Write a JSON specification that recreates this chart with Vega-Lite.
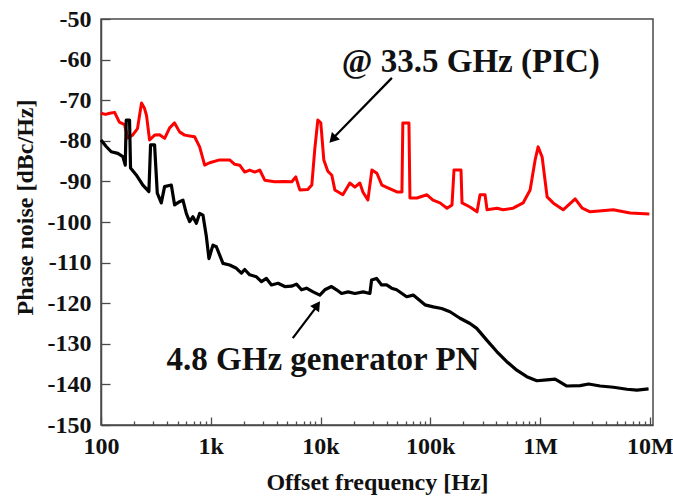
{
  "$schema": "https://vega.github.io/schema/vega-lite/v6.json",
  "width": 552,
  "height": 406,
  "autosize": {"type": "none"},
  "padding": {"left": 101, "top": 19, "right": 20, "bottom": 72},
  "background": "white",
  "config": {
    "view": {"stroke": "#4a4a4a", "strokeWidth": 1.5},
    "font": "Liberation Serif, DejaVu Serif, serif",
    "axis": {"grid": false, "domainColor": "#4a4a4a", "domainWidth": 1.5, "tickColor": "#4a4a4a", "tickWidth": 1.3,
      "labelFont": "Liberation Serif, DejaVu Serif, serif", "labelFontWeight": "bold", "labelFontSize": 24, "labelColor": "#111",
      "titleFont": "Liberation Serif, DejaVu Serif, serif", "titleFontWeight": "bold", "titleFontSize": 24, "titleColor": "#111"}
  },
  "datasets": {
    "pic": [
      {"f": 100, "pn": -73.2}, {"f": 110, "pn": -73.5}, {"f": 120, "pn": -73.2}, {"f": 133, "pn": -73.0}, {"f": 147, "pn": -75.4},
      {"f": 164, "pn": -76.0}, {"f": 175, "pn": -79.3}, {"f": 194, "pn": -78.6}, {"f": 215, "pn": -77.0}, {"f": 225, "pn": -73.6},
      {"f": 234, "pn": -70.7}, {"f": 249, "pn": -72.0}, {"f": 260, "pn": -73.8}, {"f": 277, "pn": -79.8}, {"f": 308, "pn": -78.6},
      {"f": 342, "pn": -78.5}, {"f": 380, "pn": -79.4}, {"f": 422, "pn": -76.8}, {"f": 468, "pn": -75.6}, {"f": 520, "pn": -77.8},
      {"f": 578, "pn": -78.6}, {"f": 642, "pn": -78.8}, {"f": 713, "pn": -79.0}, {"f": 792, "pn": -81.5}, {"f": 880, "pn": -86.0},
      {"f": 977, "pn": -85.4}, {"f": 1205, "pn": -84.7}, {"f": 1487, "pn": -84.7}, {"f": 1652, "pn": -85.8}, {"f": 1835, "pn": -86.0},
      {"f": 2039, "pn": -87.7}, {"f": 2264, "pn": -87.2}, {"f": 2515, "pn": -87.7}, {"f": 2795, "pn": -87.2}, {"f": 3103, "pn": -89.7},
      {"f": 3828, "pn": -90.1}, {"f": 4725, "pn": -90.0}, {"f": 5472, "pn": -90.1}, {"f": 5953, "pn": -88.9}, {"f": 6475, "pn": -92.1},
      {"f": 7659, "pn": -92.0}, {"f": 8329, "pn": -90.9}, {"f": 8873, "pn": -82.0}, {"f": 9450, "pn": -74.9}, {"f": 10060, "pn": -75.6},
      {"f": 10717, "pn": -84.7}, {"f": 11657, "pn": -87.5}, {"f": 12682, "pn": -88.5}, {"f": 13506, "pn": -92.1}, {"f": 15974, "pn": -93.3},
      {"f": 18509, "pn": -90.4}, {"f": 20558, "pn": -91.4}, {"f": 22834, "pn": -90.4}, {"f": 24316, "pn": -92.6}, {"f": 27015, "pn": -94.6},
      {"f": 29387, "pn": -87.2}, {"f": 32640, "pn": -88.0}, {"f": 36254, "pn": -90.9}, {"f": 41127, "pn": -91.6}, {"f": 49692, "pn": -92.6},
      {"f": 55193, "pn": -92.6}, {"f": 56234, "pn": -75.6}, {"f": 63927, "pn": -75.6}, {"f": 65283, "pn": -94.1}, {"f": 75612, "pn": -94.1},
      {"f": 93311, "pn": -93.3}, {"f": 105832, "pn": -94.6}, {"f": 122622, "pn": -95.3}, {"f": 142068, "pn": -96.6}, {"f": 157761, "pn": -95.8},
      {"f": 164520, "pn": -87.2}, {"f": 190591, "pn": -87.2}, {"f": 194658, "pn": -95.3}, {"f": 230143, "pn": -96.3}, {"f": 266772, "pn": -97.5},
      {"f": 284137, "pn": -93.3}, {"f": 315580, "pn": -93.3}, {"f": 329100, "pn": -97.0}, {"f": 406100, "pn": -96.6}, {"f": 460600, "pn": -97.0},
      {"f": 568300, "pn": -96.6}, {"f": 701200, "pn": -95.3}, {"f": 812300, "pn": -92.1}, {"f": 902400, "pn": -84.7}, {"f": 961000, "pn": -81.5},
      {"f": 1045300, "pn": -84.0}, {"f": 1160600, "pn": -93.8}, {"f": 1316700, "pn": -95.3}, {"f": 1624500, "pn": -97.0}, {"f": 2091000, "pn": -94.3},
      {"f": 2422000, "pn": -96.6}, {"f": 2865000, "pn": -97.5}, {"f": 4645000, "pn": -97.0}, {"f": 6638000, "pn": -97.8}, {"f": 9900000, "pn": -98.0}
    ],
    "gen": [
      {"f": 100, "pn": -79.8}, {"f": 111.5, "pn": -81.4}, {"f": 123.9, "pn": -82.7}, {"f": 142.3, "pn": -83.1}, {"f": 158.1, "pn": -83.9},
      {"f": 166.3, "pn": -86.0}, {"f": 169.8, "pn": -74.9}, {"f": 182, "pn": -74.9}, {"f": 185.8, "pn": -86.7}, {"f": 209.5, "pn": -88.4},
      {"f": 240.7, "pn": -90.9}, {"f": 273.1, "pn": -92.5}, {"f": 282.9, "pn": -81.0}, {"f": 307.7, "pn": -81.0}, {"f": 325.7, "pn": -92.9},
      {"f": 354.2, "pn": -95.3}, {"f": 379.6, "pn": -91.3}, {"f": 437.1, "pn": -90.9}, {"f": 468.4, "pn": -95.8}, {"f": 520.2, "pn": -95.0},
      {"f": 557.8, "pn": -94.6}, {"f": 599, "pn": -97.9}, {"f": 642, "pn": -99.9}, {"f": 688, "pn": -98.7}, {"f": 739, "pn": -100.3},
      {"f": 792, "pn": -97.9}, {"f": 849, "pn": -98.3}, {"f": 912, "pn": -103.6}, {"f": 963, "pn": -109.0}, {"f": 1047, "pn": -105.7},
      {"f": 1125, "pn": -106.1}, {"f": 1292, "pn": -110.2}, {"f": 1487, "pn": -110.6}, {"f": 1712, "pn": -111.4}, {"f": 1902, "pn": -112.6},
      {"f": 2039, "pn": -111.7}, {"f": 2264, "pn": -113.0}, {"f": 2608, "pn": -113.5}, {"f": 2896, "pn": -114.7}, {"f": 3216, "pn": -113.9},
      {"f": 3572, "pn": -115.5}, {"f": 4103, "pn": -115.1}, {"f": 4725, "pn": -115.9}, {"f": 5438, "pn": -115.8}, {"f": 6039, "pn": -115.3},
      {"f": 6707, "pn": -116.7}, {"f": 7453, "pn": -116.3}, {"f": 8561, "pn": -117.2}, {"f": 9854, "pn": -118.0}, {"f": 10945, "pn": -116.7},
      {"f": 12598, "pn": -115.9}, {"f": 13996, "pn": -116.7}, {"f": 15546, "pn": -117.6}, {"f": 17858, "pn": -117.2}, {"f": 20558, "pn": -117.6},
      {"f": 24476, "pn": -117.2}, {"f": 28181, "pn": -117.6}, {"f": 29204, "pn": -114.3}, {"f": 32433, "pn": -113.9}, {"f": 36024, "pn": -115.5},
      {"f": 40020, "pn": -115.5}, {"f": 44446, "pn": -116.3}, {"f": 49366, "pn": -116.7}, {"f": 60915, "pn": -118.4}, {"f": 69983, "pn": -118.0},
      {"f": 89442, "pn": -120.4}, {"f": 106500, "pn": -120.9}, {"f": 127000, "pn": -121.3}, {"f": 151300, "pn": -122.1}, {"f": 186600, "pn": -123.7},
      {"f": 230100, "pn": -125.0}, {"f": 265100, "pn": -126.2}, {"f": 327000, "pn": -129.1}, {"f": 403500, "pn": -131.9}, {"f": 497800, "pn": -134.4},
      {"f": 614200, "pn": -136.5}, {"f": 757900, "pn": -138.1}, {"f": 935000, "pn": -139.1}, {"f": 1153000, "pn": -138.9}, {"f": 1373000, "pn": -138.7},
      {"f": 1756000, "pn": -140.4}, {"f": 2323000, "pn": -140.3}, {"f": 2765000, "pn": -139.9}, {"f": 3535000, "pn": -140.4}, {"f": 4674000, "pn": -140.7},
      {"f": 6194000, "pn": -141.2}, {"f": 7642000, "pn": -141.4}, {"f": 9752000, "pn": -141.1}
    ],
    "arrows": [
      {"f": 44740, "pn": -64.5, "f2": 13400, "pn2": -79.0},
      {"f": 5588, "pn": -128.6, "f2": 9000, "pn2": -121.2}
    ],
    "heads": [
      {"f": 12900, "pn": -79.6, "ang": 223},
      {"f": 9350, "pn": -120.5, "ang": 35}
    ],
    "labels": [
      {"f": 15640, "pn": -63.0, "txt": "@ 33.5 GHz (PIC)"},
      {"f": 396, "pn": -136.45, "txt": "4.8 GHz generator PN"}
    ]
  },
  "layer": [
    {
      "data": {"name": "pic"},
      "mark": {"type": "line", "color": "#ff0000", "strokeWidth": 3, "strokeJoin": "round"},
      "encoding": {
        "x": {"field": "f", "type": "quantitative",
          "scale": {"type": "log", "domain": [100, 10700000], "nice": false},
          "axis": {
            "title": "Offset frequency [Hz]", "titleY": 57, "titleBaseline": "middle",
            "values": [100,200,300,400,500,600,700,800,900,1000,2000,3000,4000,5000,6000,7000,8000,9000,10000,20000,30000,40000,50000,60000,70000,80000,90000,100000,200000,300000,400000,500000,600000,700000,800000,900000,1000000,2000000,3000000,4000000,5000000,6000000,7000000,8000000,9000000,10000000],
            "labelExpr": "abs(log(datum.value)/LN10 - round(log(datum.value)/LN10)) < 0.01 ? (datum.value >= 1e6 ? round(datum.value/1e6) + 'M' : datum.value >= 1e3 ? round(datum.value/1e3) + 'k' : round(datum.value) + '') : ''",
            "tickSize": {"condition": {"test": "abs(log(datum.value)/LN10 - round(log(datum.value)/LN10)) < 0.01", "value": -8}, "value": -4},
            "labelPadding": 17, "labelFlush": false, "labelOverlap": false
          }},
        "y": {"field": "pn", "type": "quantitative",
          "scale": {"domain": [-150, -50], "nice": false, "zero": false},
          "axis": {
            "title": "Phase noise [dBc/Hz]", "titleX": -76, "titleY": 188, "titleBaseline": "middle",
            "values": [-150,-145,-140,-135,-130,-125,-120,-115,-110,-105,-100,-95,-90,-85,-80,-75,-70,-65,-60,-55,-50],
            "labelExpr": "datum.value % 10 == 0 ? datum.value + '' : ''",
            "tickSize": {"condition": {"test": "datum.value % 10 == 0", "value": -9}, "value": -5},
            "labelPadding": 19, "labelOverlap": false
          }}
      }
    },
    {
      "data": {"name": "gen"},
      "mark": {"type": "line", "color": "#000000", "strokeWidth": 3.2, "strokeJoin": "round"},
      "encoding": {
        "x": {"field": "f", "type": "quantitative"},
        "y": {"field": "pn", "type": "quantitative"}
      }
    },
    {
      "data": {"name": "arrows"},
      "mark": {"type": "rule", "color": "#000000", "strokeWidth": 2.2},
      "encoding": {
        "x": {"field": "f", "type": "quantitative"},
        "y": {"field": "pn", "type": "quantitative"},
        "x2": {"field": "f2"},
        "y2": {"field": "pn2"}
      }
    },
    {
      "data": {"name": "heads"},
      "mark": {"type": "point", "shape": "triangle-up", "filled": true, "color": "#000000", "size": 120, "opacity": 1},
      "encoding": {
        "x": {"field": "f", "type": "quantitative"},
        "y": {"field": "pn", "type": "quantitative"},
        "angle": {"field": "ang", "type": "quantitative", "scale": null}
      }
    },
    {
      "data": {"name": "labels"},
      "mark": {"type": "text", "align": "left", "baseline": "alphabetic", "font": "Liberation Serif, DejaVu Serif, serif", "fontWeight": "bold", "fontSize": 33, "color": "#111"},
      "encoding": {
        "x": {"field": "f", "type": "quantitative"},
        "y": {"field": "pn", "type": "quantitative"},
        "text": {"field": "txt"}
      }
    }
  ]
}
